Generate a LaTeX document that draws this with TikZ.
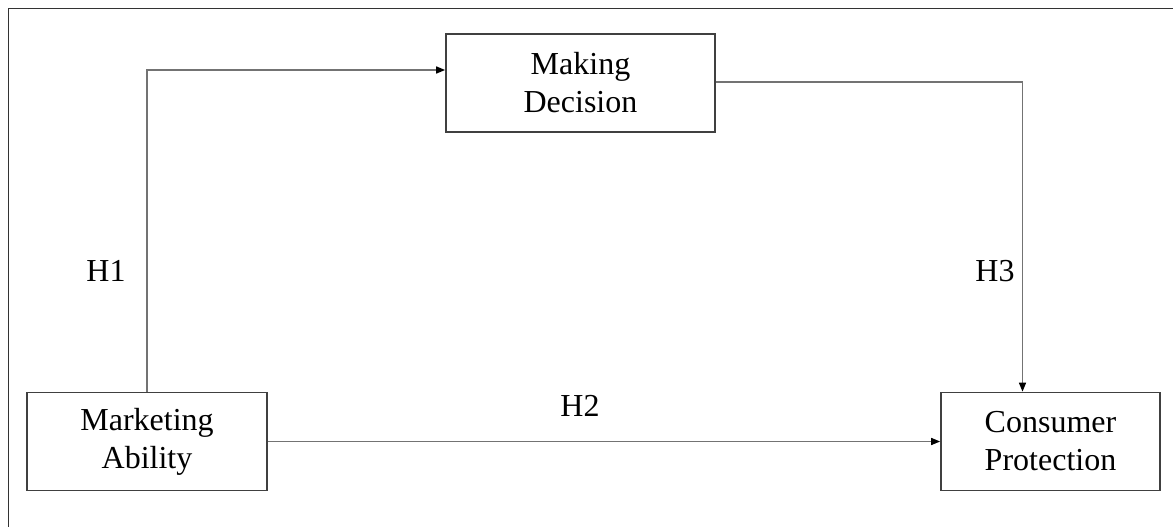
\documentclass[tikz,border=0pt]{standalone}
\usepackage{fontspec}
\setmainfont{Liberation Serif}
\usetikzlibrary{arrows.meta}
\begin{document}
\begin{tikzpicture}[x=1pt,y=-1pt,
  box/.style={draw=black!75,line width=1.7pt,minimum width=#1,minimum height=98pt,align=center,font=\fontsize{32}{38}\selectfont,inner sep=0pt},
  box/.default=240pt,
  conn/.style={draw=black!55,line width=1.5pt,-{Triangle[length=9pt,width=7pt,fill=black,color=black]}},
  lbl/.style={font=\fontsize{32}{38}\selectfont,inner sep=0pt}]
\useasboundingbox (0,0) rectangle (1173,527);
\coordinate (ftl) at (8.5,8.5);
\coordinate (ftr) at (1173,8.5);
\coordinate (fbl) at (8.5,527);
\draw[black!80,line width=1.6pt] (fbl) -- (ftl) -- (ftr);
\node[box=269pt] (md) at (580.5,83) {Making\\Decision};
\node[box=240pt] (ma) at (147,441.5) {Marketing\\Ability};
\node[box=219pt] (cp) at (1050.5,441.5) {Consumer\\Protection};
\coordinate (c1) at (147,70);
\coordinate (c3) at (1022.5,82);
\draw[conn] (ma.north) -- (c1) -- (c1 -| md.west);
\draw[conn] (md.east |- c3) -- (c3) -- (c3 |- cp.north);
\draw[conn] (ma.east) -- (cp.west);
\node[lbl] (h1) at (106,271) {H1};
\node[lbl] (h2) at (580,406) {H2};
\node[lbl] (h3) at (995,271) {H3};
\end{tikzpicture}
\end{document}
